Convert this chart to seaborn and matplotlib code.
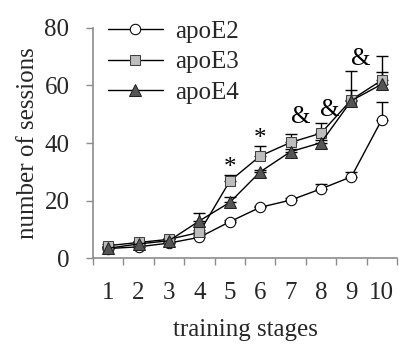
import numpy as np
import pandas as pd
import matplotlib
matplotlib.use("Agg")
import matplotlib.pyplot as plt
import seaborn as sns

# Mean number of sessions per training stage, by genotype
stages = [1, 2, 3, 4, 5, 6, 7, 8, 9, 10]
apoE2 = [3.4, 4.0, 5.3, 7.3, 12.7, 17.7, 20.2, 24.1, 28.3, 48.1]
apoE3 = [4.4, 5.5, 6.6, 9.0, 26.8, 35.5, 40.2, 43.4, 55.0, 61.8]
apoE4 = [3.5, 5.0, 6.1, 13.0, 19.4, 30.0, 37.0, 40.1, 54.7, 60.4]
# Upper error (SEM)
apoE2_err = [0.5, 0.5, 0.5, 0.7, 0.6, 0.6, 0.6, 1.7, 1.6, 6.1]
apoE3_err = [0.6, 0.6, 0.6, 0.8, 2.0, 3.4, 3.0, 3.5, 3.5, 8.4]
apoE4_err = [0.5, 0.5, 0.6, 2.7, 1.8, 0.8, 0.8, 0.8, 10.4, 4.3]

groups = ["apoE2", "apoE3", "apoE4"]
means = {"apoE2": apoE2, "apoE3": apoE3, "apoE4": apoE4}
errs = {"apoE2": apoE2_err, "apoE3": apoE3_err, "apoE4": apoE4_err}

# Significance marks: (x position, y position, symbol)
mark_x = [5, 6, 7.33, 8.3, 9.3]
mark_y = [31.5, 41.5, 49.0, 51.5, 69.0]
mark_s = ["*", "*", "&", "&", "&"]

sns.set_theme(style="white")
plt.rcParams["font.family"] = ["Liberation Serif", "DejaVu Serif"]

FS = 18

df = pd.concat(
    [pd.DataFrame({"stage": stages, "sessions": means[g], "group": g}) for g in groups],
    ignore_index=True,
)

fig = plt.figure(figsize=(4.0, 3.44), dpi=100)
ax = fig.add_axes([0.2325, 0.249, 0.76, 0.6705])

marker_style = {
    "apoE2": dict(marker="o", mfc="white", mec="black", ms=7.5),
    "apoE3": dict(marker="s", mfc="#BDBDBD", mec="#404040", ms=7.5),
    "apoE4": dict(marker="^", mfc="#555555", mec="#222222", ms=8),
}

# error bars (upper only) drawn first so markers sit on top
for g in groups:
    ax.errorbar(stages, means[g], yerr=[np.zeros(len(stages)), errs[g]],
                fmt="none", ecolor="black", elinewidth=1.0, capsize=4.5,
                capthick=1.0, zorder=2)

for g in groups:
    sub = df[df["group"] == g]
    sns.lineplot(data=sub, x="stage", y="sessions", ax=ax, color="black",
                 linewidth=1.0, label=g, zorder=3, **marker_style[g])

for x, y, s in zip(mark_x, mark_y, mark_s):
    ax.text(x, y, s, ha="center", va="center", fontsize=FS, color="black")

ax.set_xlim(0.5, 10.5)
ax.set_ylim(0, 80)
ax.set_yticks([0, 20, 40, 60, 80])
ax.set_xticks(stages)
ax.set_xticks(np.arange(0.5, 11, 1), minor=True)
ax.tick_params(axis="x", which="major", length=0, labelsize=FS, pad=17)
ax.tick_params(axis="x", which="minor", length=5, width=1.0, color="#8c8c8c",
               direction="out", bottom=True)
ax.tick_params(axis="y", length=5, width=1.0, color="#8c8c8c", left=True,
               labelsize=FS, pad=12)
for side in ["top", "right"]:
    ax.spines[side].set_visible(False)
for side in ["left", "bottom"]:
    ax.spines[side].set_color("#8c8c8c")
    ax.spines[side].set_linewidth(1.2)

ax.set_xlabel("training stages", fontsize=FS, labelpad=11)
ax.set_ylabel("number of sessions", fontsize=FS, labelpad=4)

leg = ax.legend(loc="upper left", bbox_to_anchor=(0.015, 1.075), frameon=False,
                fontsize=FS, handlelength=2.2, handletextpad=0.5,
                labelspacing=0.32, borderaxespad=0.0)

fig.savefig("out.png", dpi=100)
